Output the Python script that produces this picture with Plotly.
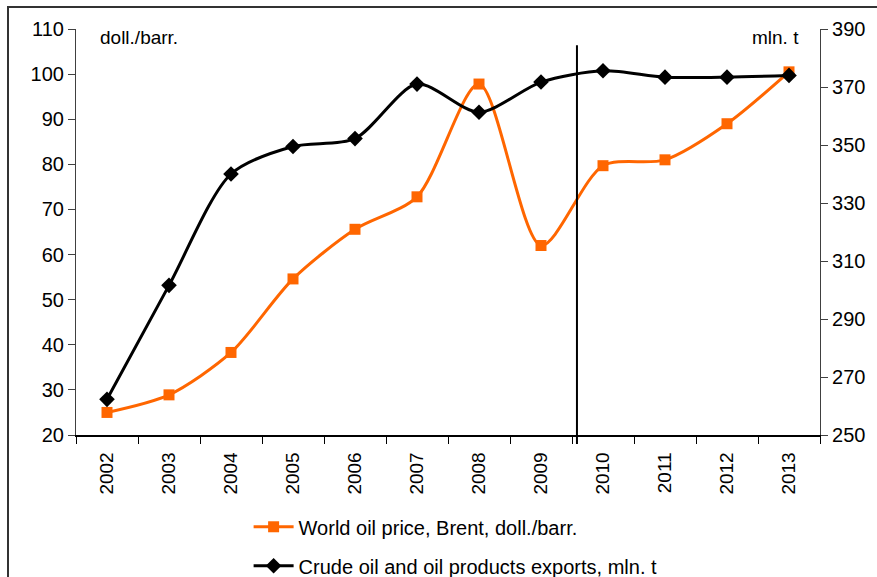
import plotly.graph_objects as go

# Years on the category axis
years = ["2002", "2003", "2004", "2005", "2006", "2007",
         "2008", "2009", "2010", "2011", "2012", "2013"]

# Brent world oil price, doll./barr. (left axis)
brent_price = [25.0, 28.9, 38.3, 54.6, 65.6, 72.8, 97.8, 62.0, 79.7, 81.0, 89.0, 100.5]

# Crude oil and oil products exports, mln. t (right axis)
oil_exports = [262.3, 301.6, 340.0, 349.5, 352.2, 371.0, 361.3, 371.7, 375.6, 373.4, 373.4, 374.0]

left_ticks = [20, 30, 40, 50, 60, 70, 80, 90, 100, 110]
right_ticks = [250, 270, 290, 310, 330, 350, 370, 390]

FONT = "Liberation Sans, Arial, sans-serif"
ORANGE = "#FF6600"

fig = go.Figure()

fig.add_trace(go.Scatter(
    x=years, y=brent_price, name="World oil price, Brent, doll./barr.",
    mode="lines+markers", yaxis="y", legendgroup="a",
    line=dict(color=ORANGE, width=3, shape="spline", smoothing=0.8),
    marker=dict(symbol="square", size=11, color=ORANGE),
))

fig.add_trace(go.Scatter(
    x=years, y=oil_exports, name="Crude oil and oil products exports, mln. t",
    mode="lines+markers", yaxis="y2", legendgroup="b",
    line=dict(color="black", width=3, shape="spline", smoothing=0.8),
    marker=dict(symbol="diamond", size=12, color="black"),
))

# Vertical separator between 2009 and 2010
SEPARATOR_X = 7.58

fig.update_layout(
    width=877, height=577,
    margin=dict(l=76, r=57, t=29, b=142, autoexpand=False),
    paper_bgcolor="white", plot_bgcolor="white",
    font=dict(family=FONT, size=19, color="black"),
    showlegend=True,
    legend=dict(
        x=0.232, y=-0.178, xanchor="left", yanchor="top",
        orientation="v", tracegroupgap=10, itemwidth=40,
        font=dict(family=FONT, size=20, color="black"),
        bgcolor="rgba(0,0,0,0)",
    ),
    xaxis=dict(
        type="category", range=[-0.5, 11.5],
        showgrid=False, zeroline=False,
        showline=True, linecolor="black", linewidth=1.5,
        ticks="outside", tickson="boundaries", ticklen=7, tickcolor="black",
        tickangle=-90, tickfont=dict(size=19), ticklabelstandoff=8,
    ),
    yaxis=dict(
        range=[20, 110], tickvals=left_ticks,
        showgrid=False, zeroline=False,
        showline=True, linecolor="#404040", linewidth=1.2,
        ticks="outside", ticklen=7, tickcolor="#404040",
        tickfont=dict(size=20),
    ),
    yaxis2=dict(
        range=[250, 390], tickvals=right_ticks,
        overlaying="y", side="right",
        showgrid=False, zeroline=False,
        showline=True, linecolor="#404040", linewidth=1.2,
        ticks="outside", ticklen=7, tickcolor="#404040",
        tickfont=dict(size=20),
    ),
    shapes=[
        dict(type="line", xref="x", yref="paper",
             x0=SEPARATOR_X, x1=SEPARATOR_X, y0=-0.022, y1=0.96,
             line=dict(color="black", width=2)),
        dict(type="rect", xref="paper", yref="paper",
             xsizemode="pixel", ysizemode="pixel", xanchor=0, yanchor=1,
             x0=-68, x1=900, y0=22, y1=-600,
             line=dict(color="#333333", width=2), fillcolor="rgba(0,0,0,0)"),
    ],
    annotations=[
        dict(text="doll./barr.", xref="paper", yref="paper",
             x=0.03, y=1.01, xanchor="left", yanchor="top",
             showarrow=False, font=dict(size=19)),
        dict(text="mln. t", xref="paper", yref="paper",
             x=0.975, y=1.01, xanchor="right", yanchor="top",
             showarrow=False, font=dict(size=19)),
    ],
)

fig.write_html("out.html")
